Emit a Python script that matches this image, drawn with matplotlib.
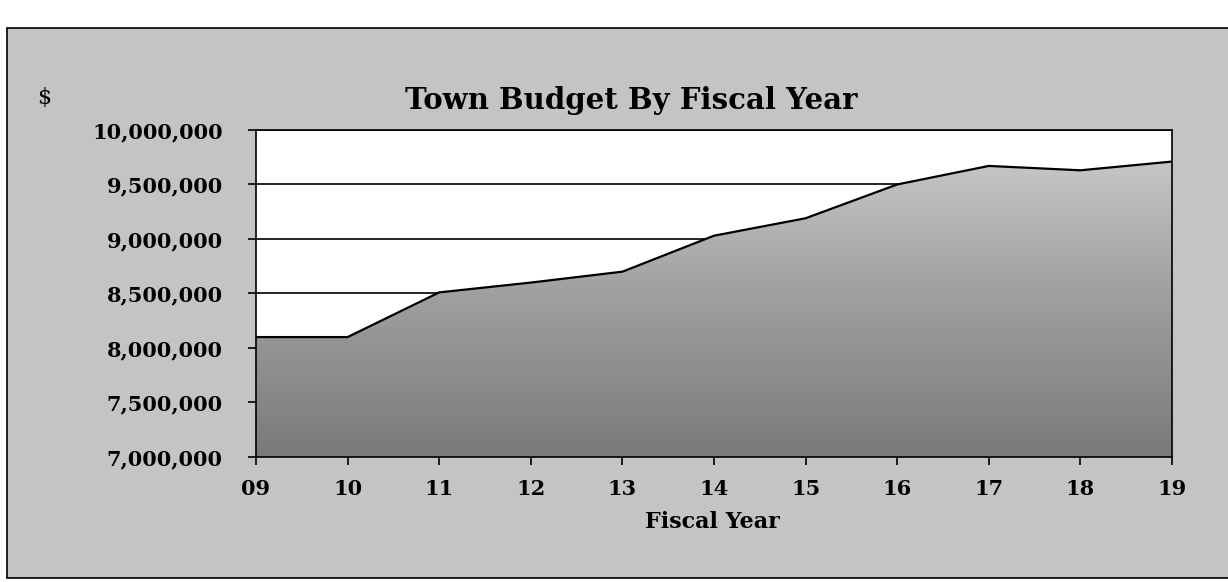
import numpy as np
import matplotlib.pyplot as plt
from matplotlib import ticker
from matplotlib.patches import Rectangle, Polygon
from matplotlib.colors import LinearSegmentedColormap

# Town budget per fiscal year (dollars)
years = ['09', '10', '11', '12', '13', '14', '15', '16', '17', '18', '19']
budget = [8100000, 8100000, 8510000, 8600000, 8700000, 9030000,
          9190000, 9500000, 9670000, 9630000, 9710000]

plt.rcParams['font.family'] = 'DejaVu Serif'
plt.rcParams['font.weight'] = 'bold'

fig = plt.figure(figsize=(12.28, 5.82), dpi=100)
fig.patch.set_facecolor('white')

# grey panel with a thin border behind everything
fig.add_artist(Rectangle((0.006, 0.007), 1.0, 0.945, transform=fig.transFigure,
                         facecolor='#c4c4c4', edgecolor='black', lw=1.2, zorder=0))

ax = fig.add_axes([0.2085, 0.2148, 0.7459, 0.5619])
ax.set_facecolor('white')

x = np.arange(len(years))

# shaded area under the budget line, darker towards the bottom
verts = [(x[0], 7000000)] + list(zip(x, budget)) + [(x[-1], 7000000)]
area = Polygon(verts, closed=True, facecolor='none', edgecolor='none')
ax.add_patch(area)
shade = LinearSegmentedColormap.from_list('shade', ['#7a7a7a', '#a0a0a0', '#cfcfcf'])
grad = np.linspace(0, 1, 256).reshape(-1, 1)
img = ax.imshow(grad, cmap=shade, origin='lower', aspect='auto',
                extent=[x[0], x[-1], 7000000, 10000000], zorder=1)
img.set_clip_path(area)

ax.plot(x, budget, color='black', lw=1.6, zorder=3)

ax.set_xlim(x[0], x[-1])
ax.set_ylim(7000000, 10000000)
ax.set_xticks(x)
ax.set_xticklabels(years)
ax.yaxis.set_major_locator(ticker.MultipleLocator(500000))
ax.yaxis.set_major_formatter(ticker.StrMethodFormatter('{x:,.0f}'))

ax.grid(axis='y', color='black', lw=1.2)
ax.set_axisbelow(True)
for s in ax.spines.values():
    s.set_linewidth(1.2)
    s.set_zorder(4)

ax.tick_params(axis='both', length=6, width=1.2, labelsize=15)
ax.tick_params(axis='y', pad=18)
ax.tick_params(axis='x', pad=10)

fig.text(0.514, 0.828, 'Town Budget By Fiscal Year', ha='center', va='center',
         fontsize=21, fontweight='bold')
fig.text(0.036, 0.832, '$', ha='center', va='center', fontsize=16,
         fontweight='normal')
fig.text(0.580, 0.103, 'Fiscal Year', ha='center', va='center',
         fontsize=16, fontweight='bold')

fig.savefig('out.png', dpi=100, facecolor=fig.get_facecolor())
